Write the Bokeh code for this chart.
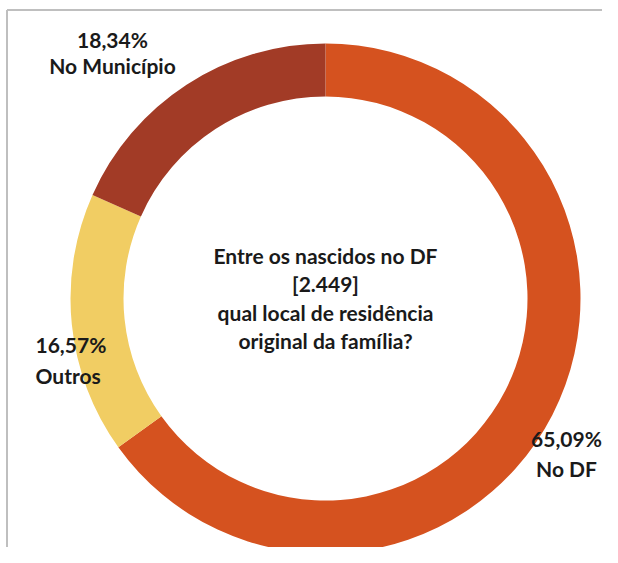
from bokeh.plotting import figure
from bokeh.models import Range1d
from bokeh.core.properties import value
from bokeh.embed import file_html
from bokeh.resources import INLINE
import math

# ---- data ----
categories = ["No DF", "Outros", "No Município"]
shares = [65.09, 16.57, 18.34]
labels_pct = ["65,09%", "16,57%", "18,34%"]
colors = ["#D5521F", "#F1CD63", "#A23B26"]
center_lines = ["Entre os nascidos no DF", "[2.449]", "qual local de residência", "original da família?"]

W, H = 602, 547
p = figure(width=W, height=H, output_backend="svg", toolbar_location=None,
           x_range=Range1d(0, W), y_range=Range1d(0, H), min_border=0,
           outline_line_color=None)
p.axis.visible = False
p.grid.visible = False
p.background_fill_color = "white"
p.border_fill_color = "white"

# picture (top-left origin) -> data coordinates
def px(X):
    return X

def py(Y):
    return H - Y

# chart-area border (top and left)
bx, by = 6.5, 9.5
p.segment(x0=[px(bx), px(bx)], y0=[py(by), py(by)], x1=[px(W), px(bx)], y1=[py(by), py(H)],
          line_color="#BFBFBF", line_width=2)

cx, cy = px(325), py(298)
r_out, r_in = 255, 202

total = sum(shares)
cum = 0.0
starts, ends = [], []
for s in shares:
    a0 = math.pi / 2 - 2 * math.pi * (cum + s) / total
    a1 = math.pi / 2 - 2 * math.pi * cum / total
    starts.append(a0)
    ends.append(a1)
    cum += s

p.annular_wedge(x=[cx] * 3, y=[cy] * 3, inner_radius=r_in, outer_radius=r_out,
                start_angle=starts, end_angle=ends, fill_color=colors,
                line_color=None)

font = value("Lato")
txt_color = "#1a1a1a"
fs = "21px"

# label positions (picture coords): x, y of value line, y of name line, align
lab_pos = [(566, 438, 468, "center"), (35, 344, 375, "left"), (112, 39, 65, "center")]
for (X, Y1, Y2, align), pct, cat in zip(lab_pos, labels_pct, categories):
    p.text(x=[px(X), px(X)], y=[py(Y1), py(Y2)], text=[pct, cat],
           text_font=font, text_font_style="bold", text_font_size=fs,
           text_color=txt_color, text_align=align, text_baseline="middle")

ys = [255, 283, 312, 340]
p.text(x=[cx] * 4, y=[py(v) for v in ys], text=center_lines,
       text_font=font, text_font_style="bold", text_font_size=fs,
       text_color=txt_color, text_align="center", text_baseline="middle")

open("out.html", "w").write(file_html(p, INLINE))
